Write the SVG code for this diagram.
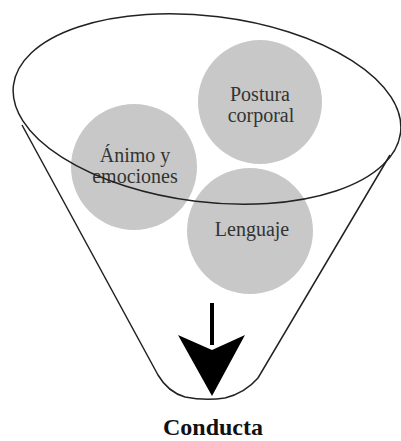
<svg xmlns="http://www.w3.org/2000/svg" width="401" height="441" viewBox="0 0 401 441">
<style>
.c{fill:#c8c8c8;stroke:none}
.t{font-family:"Liberation Serif","Times New Roman",serif;font-size:20px;fill:#333;text-anchor:middle}
.l{fill:none;stroke:#222;stroke-width:1.5}
</style>
<rect width="401" height="441" fill="#fff"/>
<g id="postura"><circle class="c" cx="260" cy="102" r="62"/><text class="t" x="260" y="101">Postura</text><text class="t" x="261" y="122">corporal</text></g>
<g id="animo"><circle class="c" cx="134" cy="167" r="63"/><text class="t" x="135" y="162">Ánimo y</text><text class="t" x="135" y="183">emociones</text></g>
<g id="lenguaje"><circle class="c" cx="250" cy="231" r="63"/><text class="t" x="252" y="236">Lenguaje</text></g>
<g id="funnel">
<ellipse class="l" cx="207" cy="109" rx="195" ry="93" transform="rotate(7 207 109)"/>
<path class="l" d="M22,125 L158,375 Q168,392 185,397 Q205,401 225,398 Q245,393 258,378 L390,155"/>
</g>
<g id="connectors">
<line x1="212" y1="303" x2="212" y2="345" stroke="#000" stroke-width="4"/>
<polygon points="178,335 212,350 245,335 212,396" fill="#000"/>
</g>
<g id="conducta"><text x="213" y="435" font-family="'Liberation Serif','Times New Roman',serif" font-size="24" font-weight="bold" text-anchor="middle" fill="#111">Conducta</text></g>
</svg>
